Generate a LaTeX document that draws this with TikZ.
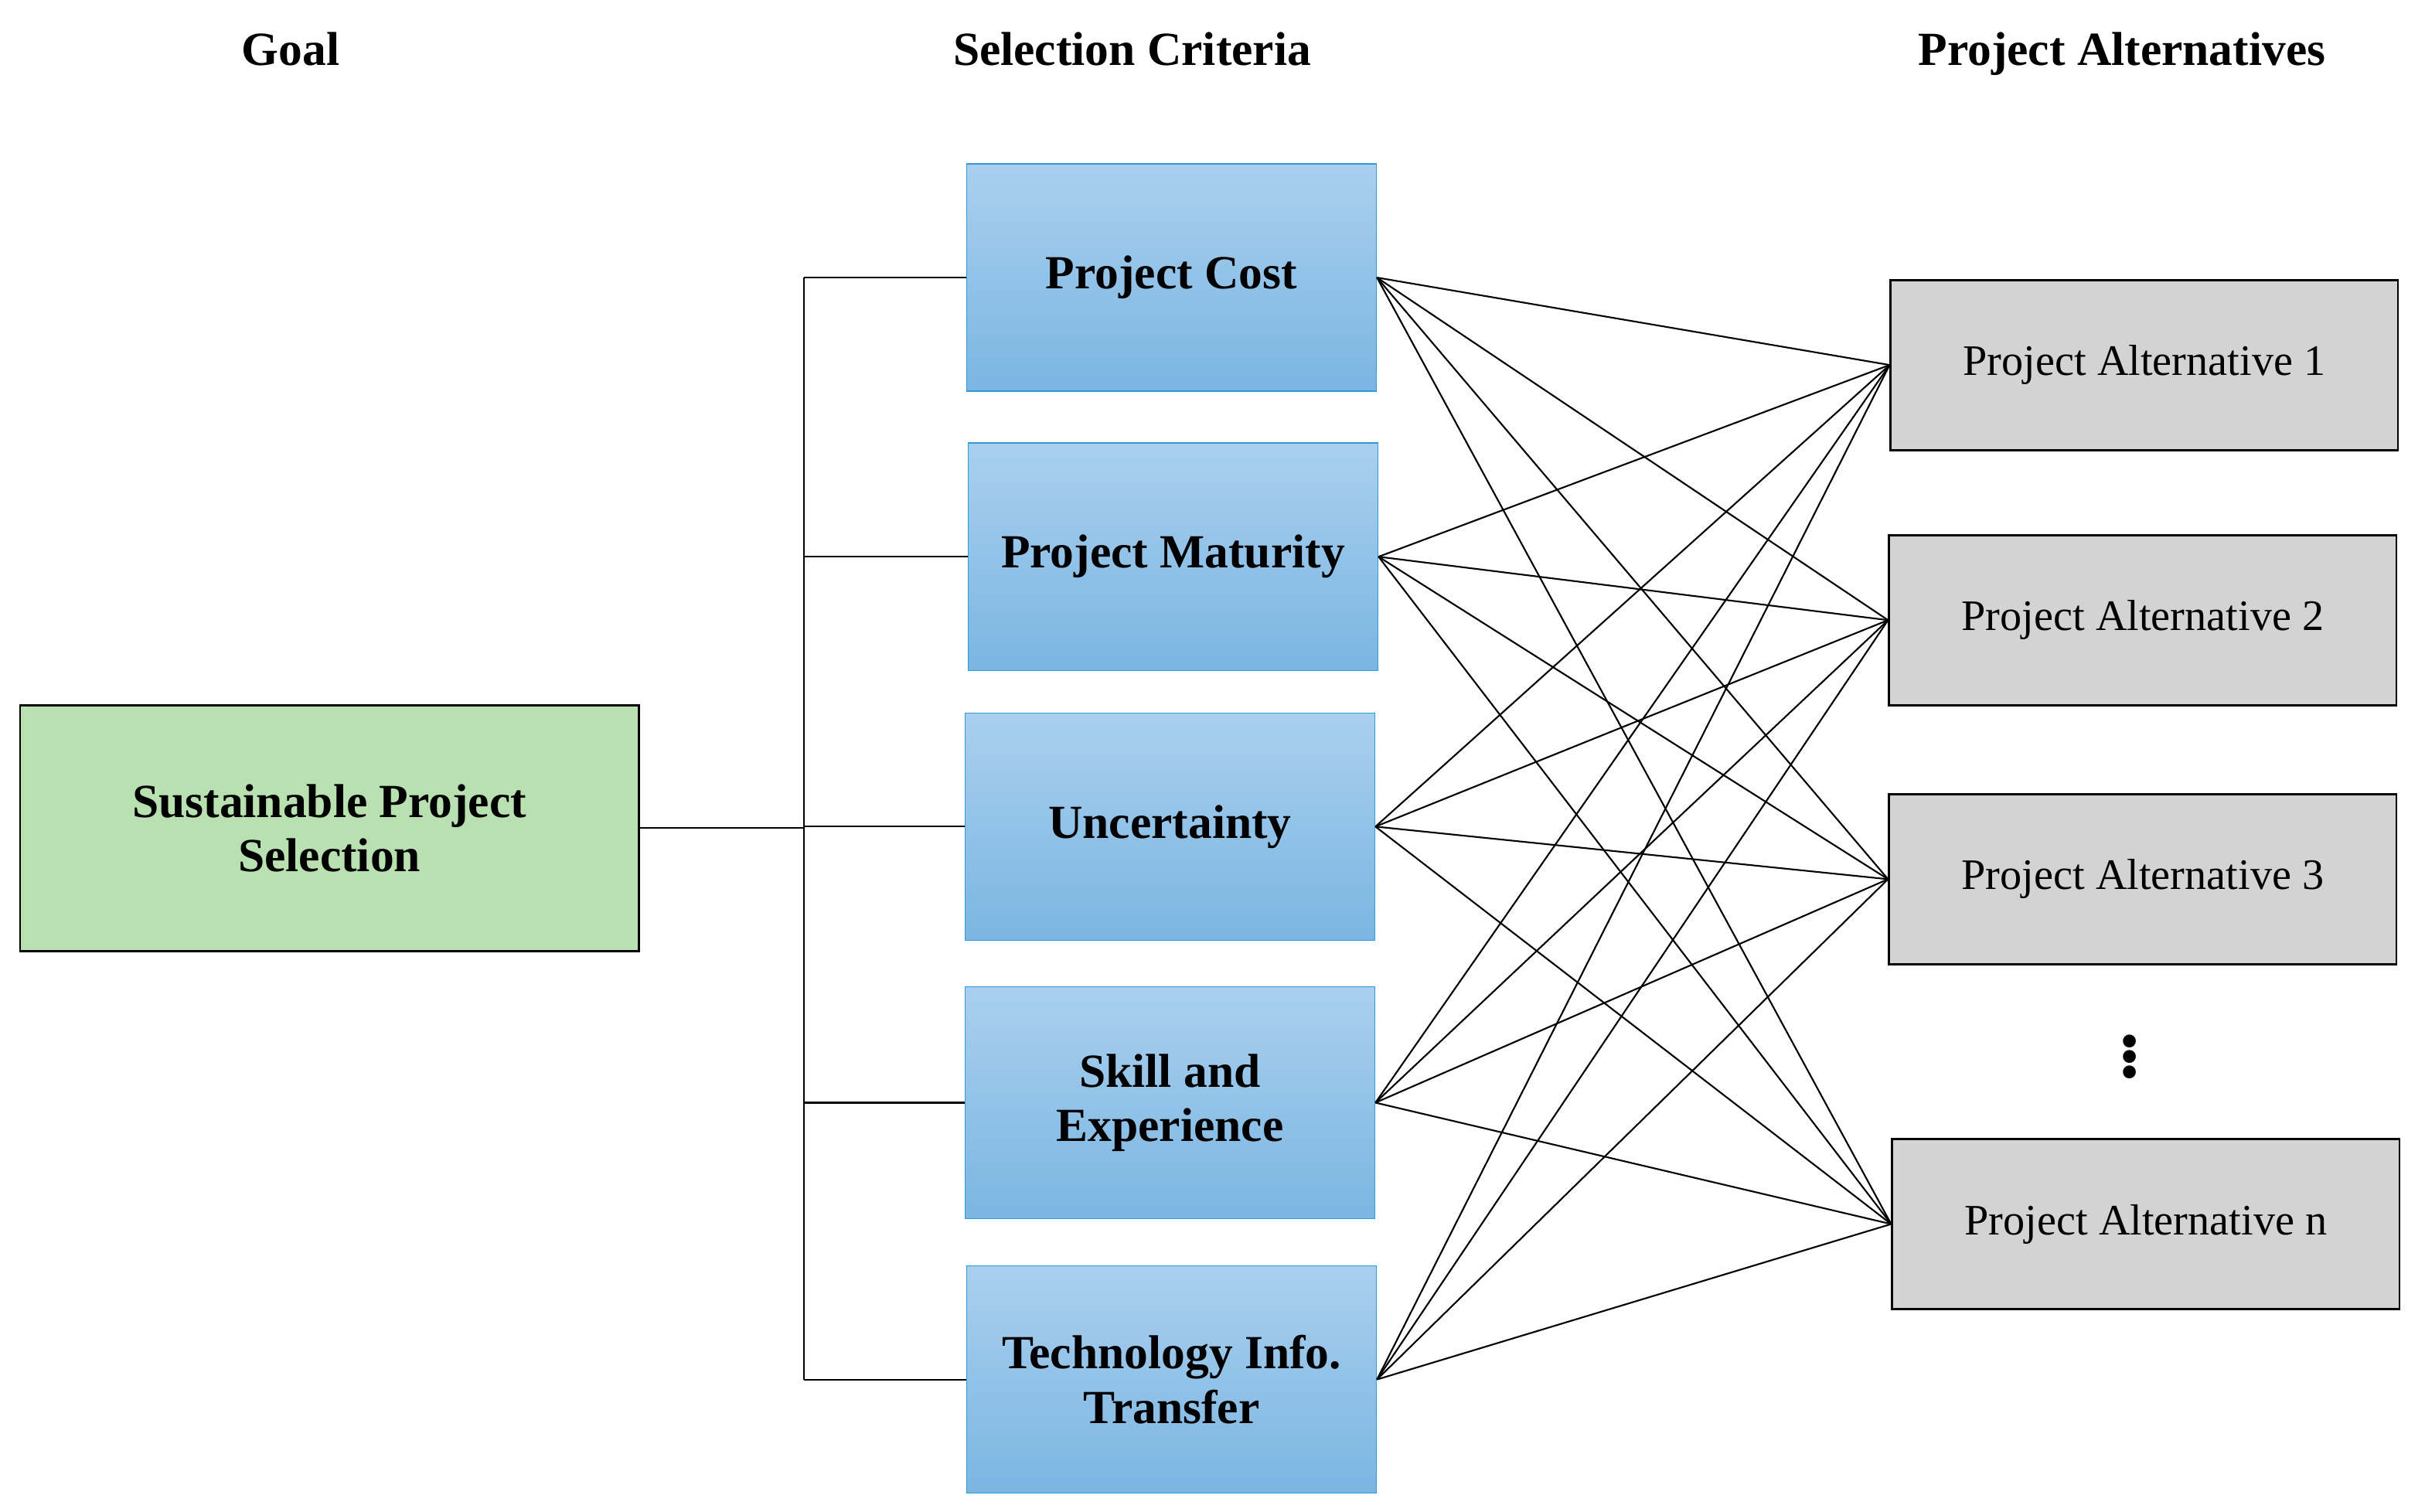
\documentclass[tikz,border=0pt]{standalone}
\usepackage{fontspec}
\setmainfont{Liberation Serif}
\definecolor{goalgreen}{HTML}{B9E0B0}
\definecolor{crittop}{HTML}{AACFEE}
\definecolor{critbot}{HTML}{7AB6E2}
\definecolor{critline}{HTML}{2E9BD6}
\definecolor{altgray}{HTML}{D3D3D3}
\tikzset{
  head/.style={font=\fontsize{17.5}{20}\selectfont\bfseries,anchor=base},
  goal/.style={draw,thick,fill=goalgreen,minimum width=8cm,minimum height=3.18cm,
    align=center,font=\fontsize{17.5}{20}\selectfont\bfseries},
  crit/.style={draw=critline,top color=crittop,bottom color=critbot,minimum width=5.3cm,
    minimum height=2.94cm,align=center,font=\fontsize{17.5}{20}\selectfont\bfseries},
  alt/.style={draw,thick,fill=altgray,minimum width=6.56cm,minimum height=2.2cm,
    font=\fontsize{16}{19}\selectfont},
  link/.style={draw,line width=0.6pt}
}
\begin{document}
\begin{tikzpicture}
\useasboundingbox (0,0) rectangle (31.36,-19.55);

\node[head] (hgoal) at (3.76,-0.84) {Goal};
\node[head] (hcrit) at (14.64,-0.84) {Selection Criteria};
\node[head] (halt) at (27.44,-0.84) {Project Alternatives};

\node[goal] (goal) at (4.26,-10.71) {Sustainable Project\\Selection};

\node[crit] (c1) at (15.15,-3.59) {Project Cost};
\node[crit] (c2) at (15.17,-7.20) {Project Maturity};
\node[crit] (c3) at (15.13,-10.69) {Uncertainty};
\node[crit,minimum height=3.0cm] (c4) at (15.13,-14.26) {Skill and\\Experience};
\node[crit] (c5) at (15.15,-17.84) {Technology Info.\\Transfer};

\node[alt] (a1) at (27.73,-4.72) {Project Alternative 1};
\node[alt] (a2) at (27.71,-8.02) {Project Alternative 2};
\node[alt] (a3) at (27.71,-11.37) {Project Alternative 3};
\node[alt] (a4) at (27.75,-15.83) {Project Alternative n};
\node[font=\fontsize{40}{40}\selectfont,inner sep=0pt] (dots) at (27.54,-13.56) {$\vdots$};

% bus from goal to criteria
\coordinate (bus) at (10.40,-10.71);
\draw[link] (goal.east) -- (bus);
\coordinate (btop) at (10.40,-3.59);
\coordinate (bbot) at (10.40,-17.84);
\draw[link] (btop) -- (bbot);
\foreach \c in {c1,c2,c3,c4,c5}
  \draw[link] (10.40,0 |- \c.west) -- (\c.west);

% criteria to alternatives
\foreach \c in {c1,c2,c3,c4,c5}
  \foreach \a in {a1,a2,a3,a4}
    \draw[link] (\c.east) -- (\a.west);

\end{tikzpicture}
\end{document}
